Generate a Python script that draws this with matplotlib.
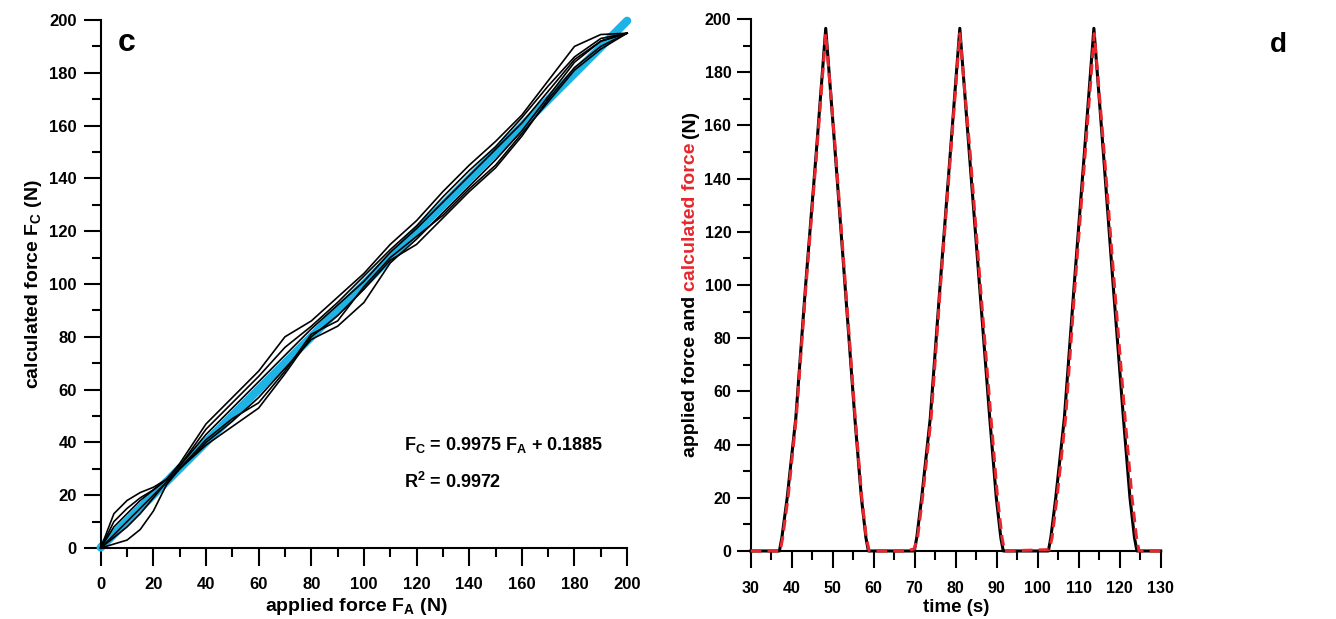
import numpy as np
import matplotlib
matplotlib.use('Agg')
import matplotlib.pyplot as plt
from matplotlib.ticker import MultipleLocator

plt.rcParams['font.family'] = ['Liberation Sans', 'DejaVu Sans']
plt.rcParams['font.weight'] = 'bold'
plt.rcParams['axes.labelweight'] = 'bold'
plt.rcParams['mathtext.fontset'] = 'custom'
plt.rcParams['mathtext.rm'] = 'Liberation Sans:bold'
plt.rcParams['mathtext.bf'] = 'Liberation Sans:bold'

NARROW = ['Liberation Sans Narrow', 'Liberation Sans']

# ── panel c: applied vs calculated force, 3 load/unload cycles ──
fa_grid = [0, 5, 10, 15, 20, 25, 30, 40, 50, 60, 70, 80, 90, 100,
           110, 120, 130, 140, 150, 160, 170, 180, 190, 200]

load1 = [0, 1.5, 3, 7, 14, 24, 30, 39, 46, 53, 66, 80, 88, 98,
         109, 115, 125, 135, 144, 156, 170, 182, 190, 195]
load2 = [0, 4, 8, 13, 19, 25, 30, 40, 48, 57, 68, 79, 84, 93,
         108, 117, 127, 137, 147, 158, 171, 184, 192, 195]
load3 = [0, 5, 10, 15, 20, 25, 30, 41, 49, 55, 67, 81, 86, 99,
         110, 118, 126, 136, 145, 157, 169, 181, 189, 195]
unload1 = [0, 13, 18, 21, 23, 26, 32, 47, 57, 67, 80, 86, 95, 104,
           115, 124, 135, 145, 154, 164, 177, 190, 194.5, 195]
unload2 = [0, 10, 15, 19, 22, 26, 31, 45, 55, 65, 76, 84, 93, 103,
           113, 122, 133, 143, 152, 163, 175, 186, 193, 195]
unload3 = [0, 8, 13, 18, 22, 26, 31, 43, 53, 63, 73, 83, 92, 101,
           112, 121, 131, 141, 151, 161, 173, 185, 192, 195]
cycles = [load1, unload1, load2, unload2, load3, unload3]

fit_slope = 0.9975
fit_icpt = 0.1885
fit_r2 = 0.9972
fit_x = [0, 200]

# ── panel d: force vs time ──
t_app = [30, 37.0, 37.6, 38.9, 41.0, 43.4, 46.0, 48.3, 50.6, 53.0, 55.4, 57.0, 58.1, 58.7,
         69.9, 70.5, 71.7, 73.8, 76.2, 78.7, 81.0, 83.3, 85.8, 88.3, 89.9, 91.0, 91.6,
         102.6, 103.2, 104.4, 106.5, 108.9, 111.4, 113.7, 116.0, 118.4, 120.9, 122.5, 123.6, 124.2, 130]
f_app = [0, 0, 5, 20, 50, 100, 150, 196.5, 150, 100, 50, 20, 5, 0,
         0, 5, 20, 50, 100, 150, 196.5, 150, 100, 50, 20, 5, 0,
         0, 5, 20, 50, 100, 150, 196.5, 150, 100, 50, 20, 5, 0, 0]

t_calc = [30, 37.2, 37.8, 39.1, 41.1, 43.5, 46.1, 48.3, 50.7, 53.1, 55.5, 57.1, 58.2, 58.9,
          68.0, 69.9, 70.7, 71.9, 74.0, 76.3, 78.8, 81.0, 83.5, 86.0, 88.6, 90.2, 91.3, 91.9,
          102.8, 103.5, 104.7, 106.8, 109.1, 111.6, 113.8, 116.2, 118.7, 121.3, 123.0, 124.1, 124.7, 130]
f_calc = [0, 0, 5, 20, 50, 100, 150, 194.5, 150, 100, 50, 20, 5, 0,
          0, 0.8, 5, 20, 50, 100, 150, 194.5, 150, 100, 50, 20, 5, 0,
          0.5, 5, 20, 50, 100, 150, 194.5, 150, 100, 50, 20, 5, 0, 0]

CYAN = '#1fb3e5'
RED = '#e8262b'

fig = plt.figure(figsize=(13.36, 6.19), dpi=100)
fig.patch.set_facecolor('white')

ax1 = fig.add_axes([0.0754, 0.1147, 0.394, 0.853])
ax2 = fig.add_axes([0.5619, 0.1099, 0.3069, 0.8594])

# panel c
ax1.plot(fit_x, [fit_slope * x + fit_icpt for x in fit_x], color=CYAN,
         linewidth=6, solid_capstyle='round', clip_on=False, zorder=2)
for branch in cycles:
    ax1.plot(fa_grid, branch, color='black', linewidth=1.2, zorder=3, clip_on=False)

ax1.set_xlim(0, 200)
ax1.set_ylim(0, 200)
ax1.xaxis.set_major_locator(MultipleLocator(20))
ax1.xaxis.set_minor_locator(MultipleLocator(10))
ax1.yaxis.set_major_locator(MultipleLocator(20))
ax1.yaxis.set_minor_locator(MultipleLocator(10))
ax1.tick_params(axis='both', which='major', direction='out', width=1.5, labelsize=12)
ax1.tick_params(axis='x', which='major', length=12.6, pad=8)
ax1.tick_params(axis='x', which='minor', length=6.8, width=1.5)
ax1.tick_params(axis='y', which='major', length=12.2, pad=5)
ax1.tick_params(axis='y', which='minor', length=6.5, width=1.5)
for s in ['top', 'right']:
    ax1.spines[s].set_visible(False)
for s in ['left', 'bottom']:
    ax1.spines[s].set_linewidth(1.5)
ax1.set_xlabel(r'applied force $\mathbf{F_A}$ (N)', fontsize=14, fontweight='bold')
ax1.xaxis.set_label_coords(0.485, -0.09)
ax1.set_ylabel(r'calculated force $\mathbf{F_C}$ (N)', fontsize=14, fontweight='bold', labelpad=4)
ax1.text(0.033, 0.985, 'c', transform=ax1.transAxes, fontsize=23,
         fontweight='bold', va='top', ha='left')
ax1.text(0.577, 0.195, r'$\mathbf{F_C}$ = %.4f $\mathbf{F_A}$ + %.4f' % (fit_slope, fit_icpt),
         transform=ax1.transAxes, fontsize=13, va='center')
ax1.text(0.577, 0.125, r'$\mathbf{R^2}$ = %.4f' % fit_r2,
         transform=ax1.transAxes, fontsize=13, va='center')

# panel d
ax2.plot(t_app, f_app, color='black', linewidth=2.2, zorder=3, clip_on=False)
ax2.plot(t_calc, f_calc, color=RED, linewidth=2.2, linestyle=(0, (3.5, 2)),
         zorder=4, clip_on=False)
ax2.set_xlim(30, 130)
ax2.set_ylim(0, 200)
ax2.xaxis.set_major_locator(MultipleLocator(10))
ax2.xaxis.set_minor_locator(MultipleLocator(5))
ax2.yaxis.set_major_locator(MultipleLocator(20))
ax2.yaxis.set_minor_locator(MultipleLocator(10))
ax2.tick_params(axis='both', which='major', direction='out', width=1.5, labelsize=11.5)
ax2.tick_params(axis='x', which='major', length=12.3, pad=9)
ax2.tick_params(axis='x', which='minor', length=6.5, width=1.5)
ax2.tick_params(axis='y', which='major', length=10, pad=4)
ax2.tick_params(axis='y', which='minor', length=5.8, width=1.5)
for lab in ax2.get_xticklabels() + ax2.get_yticklabels():
    lab.set_family(NARROW)
for s in ['top', 'right']:
    ax2.spines[s].set_visible(False)
for s in ['left', 'bottom']:
    ax2.spines[s].set_linewidth(1.5)
ax2.set_xlabel('time (s)', fontsize=13.5, family=NARROW, fontweight='bold')
ax2.xaxis.set_label_coords(0.5, -0.09)
fig.text(1278 / 1336, 1 - 45 / 619, 'd', fontsize=20, fontweight='bold',
         ha='center', va='center')

# two-colour y label for panel d, stacked bottom to top
parts = [('applied force and', 'black'), ('calculated force', RED), ('(N)', 'black')]
fig.canvas.draw()
renderer = fig.canvas.get_renderer()
texts = []
for txt, col in parts:
    texts.append(fig.text(0, 0, txt, rotation=90, fontsize=14, fontweight='bold',
                          color=col, ha='center', va='bottom'))
heights = [t.get_window_extent(renderer).height for t in texts]
gap = 5.0
total = sum(heights) + gap * (len(texts) - 1)
cy = 619 - 284
y = cy - total / 2
for t, h in zip(texts, heights):
    t.set_position((690 / 1336, y / 619))
    y += h + gap

fig.savefig('out.png', dpi=100, facecolor='white')
